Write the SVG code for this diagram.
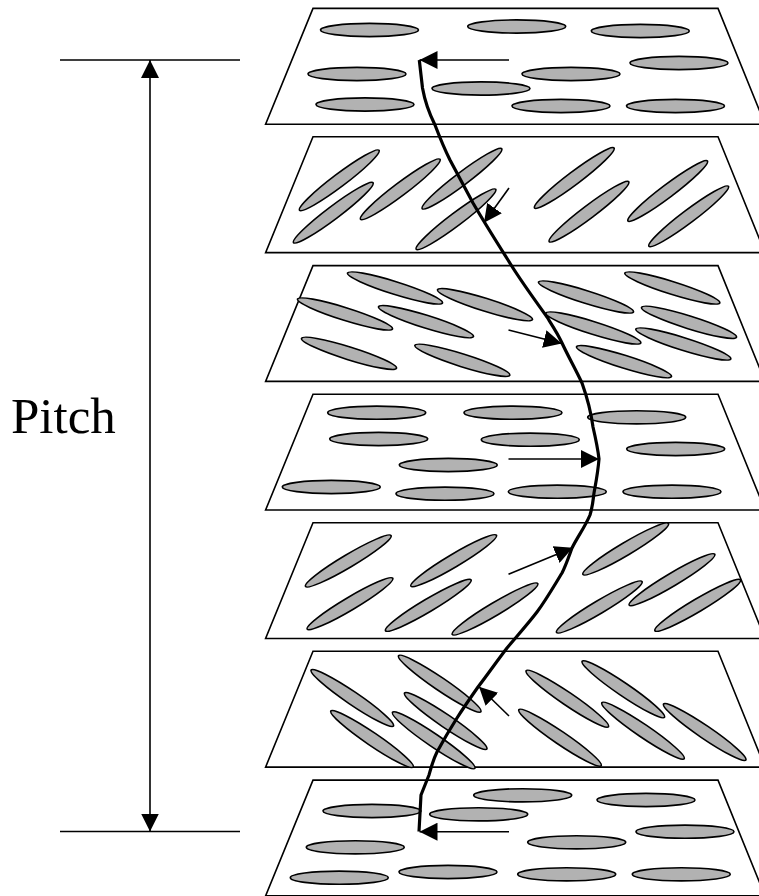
<svg xmlns="http://www.w3.org/2000/svg" width="759" height="896" viewBox="0 0 759 896">
<style>
.plane{fill:#fff;stroke:#000;stroke-width:1.6}
.lc{fill:#b2b2b2;stroke:#000;stroke-width:1.6}
.rule{stroke:#000;stroke-width:1.6;fill:none}
.arrow{stroke:#000;stroke-width:1.6;fill:none;marker-end:url(#head)}
.helix{stroke:#000;stroke-width:3.2;fill:none;stroke-linejoin:round}
text{font-family:"Liberation Serif","Times New Roman",serif;font-size:51px;fill:#000}
</style>
<defs>
<marker id="head" markerUnits="userSpaceOnUse" markerWidth="18" markerHeight="18" refX="16" refY="8" viewBox="0 0 16 16" orient="auto-start-reverse"><path d="M0 0L16 8L0 16Z" fill="#000"/></marker>
<ellipse id="e" class="lc" cx="0" cy="0" rx="49" ry="6.6"/>
<ellipse id="t" class="lc" cx="0" cy="0" rx="49.8" ry="6.4"/>
<polygon id="p" class="plane" points="313,8.4 718,8.4 765,124.2 265.6,124.2"/>
</defs>
<g id="plane-1">
<use href="#p"/>
<use href="#e" x="369.5" y="30"/><use href="#e" x="516.7" y="26.5"/><use href="#e" x="640.3" y="31"/><use href="#e" x="357" y="74"/><use href="#e" x="571" y="74"/><use href="#e" x="679" y="63"/><use href="#e" x="481" y="88.5"/><use href="#e" x="365" y="104.5"/><use href="#e" x="561" y="106"/><use href="#e" x="675.5" y="106"/>
</g>
<g id="plane-2">
<use href="#p" y="128.4"/>
<g transform="translate(260 0)">
<use href="#t" transform="translate(79.3 180.3) rotate(-37)"/><use href="#t" transform="translate(73.3 212.7) rotate(-37)"/><use href="#t" transform="translate(140.3 189.3) rotate(-37)"/><use href="#t" transform="translate(202 178.7) rotate(-37)"/><use href="#t" transform="translate(196 219.3) rotate(-37)"/><use href="#t" transform="translate(314.3 178) rotate(-37)"/><use href="#t" transform="translate(329 211.7) rotate(-37)"/><use href="#t" transform="translate(407.7 191) rotate(-37)"/><use href="#t" transform="translate(428.7 216.3) rotate(-37)"/>
</g>
</g>
<g id="plane-3">
<use href="#p" y="257.2"/>
<g transform="translate(260 260)">
<use href="#t" transform="translate(135 28) rotate(17.4)"/><use href="#t" transform="translate(225 44.7) rotate(17.4)"/><use href="#t" transform="translate(326 37) rotate(17.4)"/><use href="#t" transform="translate(412.3 28) rotate(17.4)"/><use href="#t" transform="translate(85 54) rotate(17.4)"/><use href="#t" transform="translate(166 61.7) rotate(17.4)"/><use href="#t" transform="translate(333.3 68) rotate(17.4)"/><use href="#t" transform="translate(429 62.3) rotate(17.4)"/><use href="#t" transform="translate(423.3 84) rotate(17.4)"/><use href="#t" transform="translate(89 93.3) rotate(17.4)"/><use href="#t" transform="translate(202.3 100.3) rotate(17.4)"/><use href="#t" transform="translate(364 101.7) rotate(17.4)"/>
</g>
</g>
<g id="plane-4">
<use href="#p" y="385.8"/>
<use href="#e" x="376.7" y="412.7"/><use href="#e" x="513" y="412.7"/><use href="#e" x="636.7" y="417.3"/><use href="#e" x="378.7" y="439"/><use href="#e" x="530.3" y="439.7"/><use href="#e" x="675.7" y="449"/><use href="#e" x="448.3" y="465"/><use href="#e" x="331.3" y="487"/><use href="#e" x="445" y="493.7"/><use href="#e" x="557.3" y="491.7"/><use href="#e" x="672" y="491.7"/>
</g>
<g id="plane-5">
<use href="#p" y="514.3"/>
<g transform="translate(260 515)">
<use href="#t" transform="translate(88.3 46) rotate(-30.7)"/><use href="#t" transform="translate(193.7 45.7) rotate(-30.7)"/><use href="#t" transform="translate(90 88.7) rotate(-30.7)"/><use href="#t" transform="translate(168.3 90.3) rotate(-30.7)"/><use href="#t" transform="translate(235 94) rotate(-30.7)"/><use href="#t" transform="translate(365.7 34) rotate(-30.7)"/><use href="#t" transform="translate(339.3 92) rotate(-30.7)"/><use href="#t" transform="translate(412 64.7) rotate(-30.7)"/><use href="#t" transform="translate(437.7 90.3) rotate(-30.7)"/>
</g>
</g>
<g id="plane-6">
<use href="#p" y="642.9"/>
<g transform="translate(260 515)">
<use href="#t" transform="translate(92.3 183) rotate(34.2)"/><use href="#t" transform="translate(179.7 168.7) rotate(34.2)"/><use href="#t" transform="translate(185.7 206) rotate(34.2)"/><use href="#t" transform="translate(173.7 225.3) rotate(34.2)"/><use href="#t" transform="translate(112 224) rotate(34.2)"/><use href="#t" transform="translate(307.3 183.7) rotate(34.2)"/><use href="#t" transform="translate(363.3 174.3) rotate(34.2)"/><use href="#t" transform="translate(300 222.7) rotate(34.2)"/><use href="#t" transform="translate(383 215.7) rotate(34.2)"/><use href="#t" transform="translate(444.7 217) rotate(34.2)"/>
</g>
</g>
<g id="plane-7">
<use href="#p" y="771.7"/>
<use href="#e" x="522.7" y="795.3"/><use href="#e" x="646" y="800"/><use href="#e" x="372" y="811"/><use href="#e" x="478.7" y="814.3"/><use href="#e" x="685" y="831.7"/><use href="#e" x="576.7" y="842.3"/><use href="#e" x="355.3" y="847.3"/><use href="#e" x="339.3" y="877.7"/><use href="#e" x="448" y="872"/><use href="#e" x="566.7" y="874.3"/><use href="#e" x="681.3" y="874.3"/>
</g>
<g id="connectors">
<path class="helix" d="M419.3 60L421 75L422.5 88C425 102 430 115 435 125C440 138 445 150 450 160C458 175 466 190 473 203C484 222 496 241 508 260C520 280 535 300 547 317C552 325 558 334 562 343C568 356 576 370 582 383C587 397 591 412 593 427C596 440 598 450 599 459C598 472 596 482 594 493C593 500 593 505 590 515C585 527 578 536 572 548C569 556 566 565 562 573C554 586 546 600 537 612C527 625 517 636 507 648C497 661 488 674 478 687C471 697 464 707 457 718C450 729 443 741 437 752C433 760 431 768 429 775L421 795L419 831.5"/>
<path class="arrow" d="M509 60H419.5"/>
<path class="arrow" d="M509 188L484 222.7"/>
<path class="arrow" d="M508.5 330L561.7 343.5"/>
<path class="arrow" d="M508.5 459H599"/>
<path class="arrow" d="M508.5 574.3L572.7 547.7"/>
<path class="arrow" d="M509 716L479 686.7"/>
<path class="arrow" d="M509 831.7H419.5"/>
<path class="rule" d="M60 60H240M60 831.5H240"/>
<path class="rule" d="M150 60V831.5" style="marker-start:url(#head);marker-end:url(#head)"/>
</g>
<text x="11" y="432.5">Pitch</text>
</svg>
